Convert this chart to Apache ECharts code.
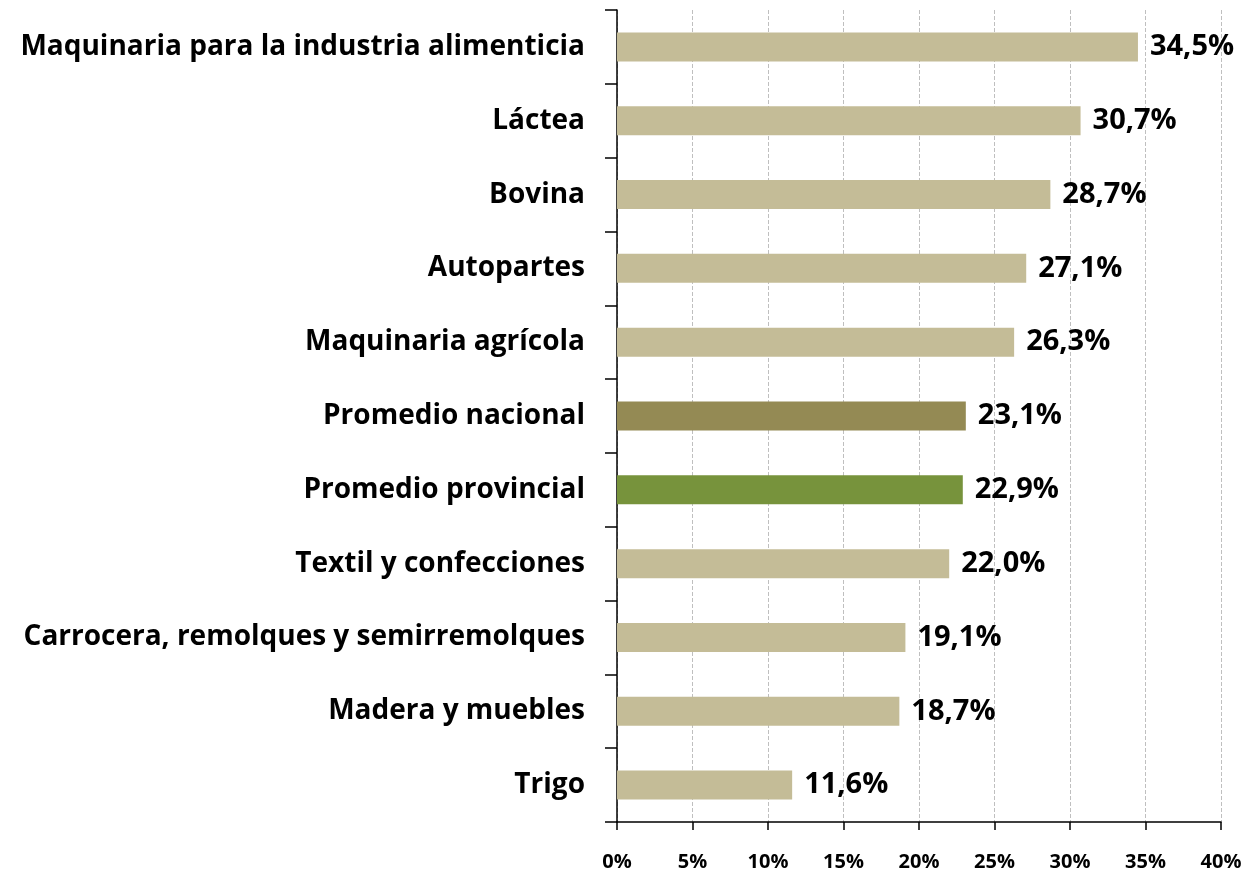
<!DOCTYPE html>
<html>
<head>
<meta charset="utf-8">
<script src="https://cdn.jsdelivr.net/npm/echarts@6/dist/echarts.min.js"></script>
<style>
    html, body { margin: 0; padding: 0; background: #fff; }
    #main { width: 1248px; height: 873px; }
</style>
</head>
<body>
<div id="main"></div>
<script>
    // datos del grafico (de arriba hacia abajo)
    var categorias = ['Maquinaria para la industria alimenticia', 'Láctea', 'Bovina', 'Autopartes',
        'Maquinaria agrícola', 'Promedio nacional', 'Promedio provincial', 'Textil y confecciones',
        'Carrocera, remolques y semirremolques', 'Madera y muebles', 'Trigo'];
    var valores = [34.5, 30.7, 28.7, 27.1, 26.3, 23.1, 22.9, 22.0, 19.1, 18.7, 11.6];
    var colores = ['#C4BC97', '#C4BC97', '#C4BC97', '#C4BC97', '#C4BC97', '#948A54', '#77933C',
        '#C4BC97', '#C4BC97', '#C4BC97', '#C4BC97'];

    var fuente = 'Open Sans';

    var myChart = echarts.init(document.getElementById('main'));
    var option = {
        animation: false,
        grid: {
            left: 617,
            right: 27,
            top: 10,
            bottom: 51
        },
        xAxis: {
            type: 'value',
            min: 0,
            max: 40,
            interval: 5,
            axisLine: { show: true, lineStyle: { color: '#000', width: 1.5 } },
            axisTick: { show: true, length: 8, lineStyle: { color: '#000', width: 1.5 } },
            axisLabel: {
                margin: 30,
                color: '#000',
                fontFamily: fuente,
                fontWeight: 'bold',
                fontSize: 20,
                formatter: '{value}%'
            },
            splitLine: { show: true, lineStyle: { color: '#BFBFBF', type: 'dashed', width: 1 } }
        },
        yAxis: {
            type: 'category',
            inverse: true,
            data: categorias,
            axisLine: { show: true, lineStyle: { color: '#000', width: 1.5 } },
            axisTick: { show: true, length: 12, lineStyle: { color: '#000', width: 1.5 } },
            axisLabel: {
                margin: 32,
                color: '#000',
                fontFamily: fuente,
                fontWeight: 'bold',
                fontSize: 28
            }
        },
        series: [{
            type: 'bar',
            barWidth: 29,
            data: valores.map(function (v, i) {
                return { value: v, itemStyle: { color: colores[i] } };
            }),
            label: {
                show: true,
                position: 'right',
                distance: 12,
                color: '#000',
                fontFamily: fuente,
                fontWeight: 'bold',
                fontSize: 29,
                formatter: function (p) {
                    return p.value.toFixed(1).replace('.', ',') + '%';
                }
            }
        }]
    };
    myChart.setOption(option);
</script>
</body>
</html>
